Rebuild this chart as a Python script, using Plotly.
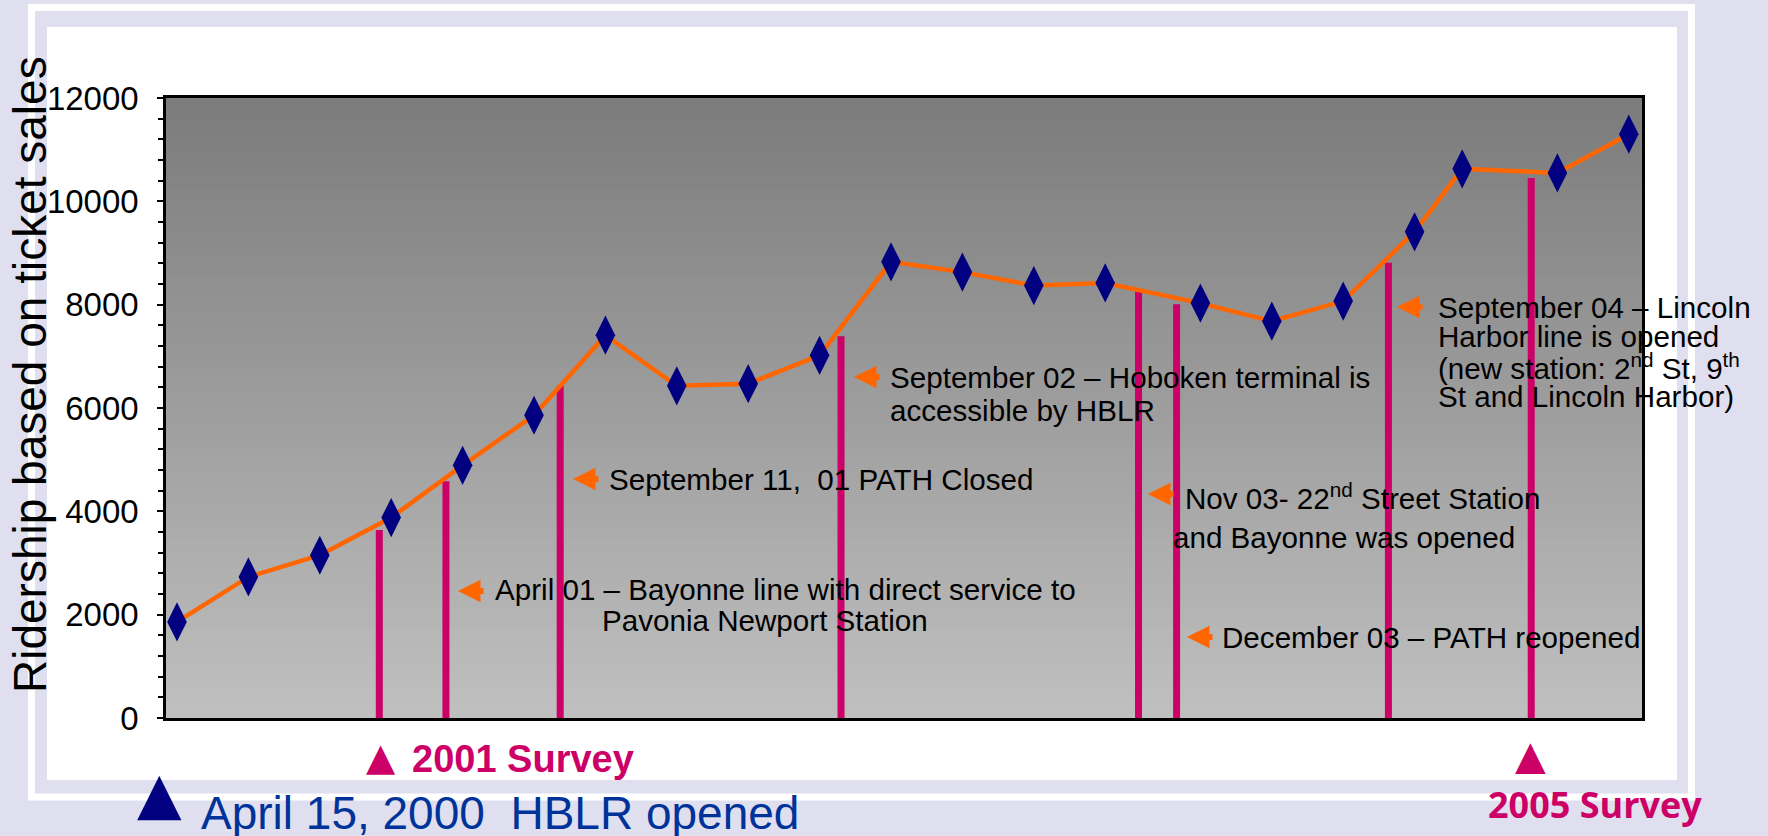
import plotly.graph_objects as go

W, H = 1768, 836

# ---------------- data ----------------
months = [0, 3, 6, 9, 12, 15, 18, 21, 24, 27, 30, 33, 36, 39, 43, 46, 49, 52, 54, 58, 61]
ridership = [1860, 2730, 3150, 3880, 4890, 5860, 7410, 6430, 6470, 7020, 8830,
             8630, 8370, 8420, 8030, 7680, 8070, 9410, 10630, 10550, 11300]
event_months = [8.5, 11.3, 16.1, 27.9, 40.4, 42.0, 50.9, 56.9]
event_tops = [3640, 4580, 6430, 7390, 8300, 8010, 8810, 10450]
y_tick_vals = [0, 2000, 4000, 6000, 8000, 10000, 12000]
y_tick_text = ["0", "2000", "4000", "6000", "8000", "10000", "12000"]

# ---------------- geometry helpers ----------------
L, R, T, B = 166, 1642, 98, 718          # plot area in pixels
def xd(px):   # pixel -> month
    return (px - 177) / 23.8
def yd(py):   # pixel -> ridership
    return (B - py) / (B - T) * 12000
def xp(px):   # pixel -> paper
    return (px - L) / (R - L)
def yp(py):
    return (B - py) / (B - T)

MAGENTA = "#CC0066"
ORANGE = "#FF6600"
NAVY = "#000080"
LAV = "#DFDFEF"

fig = go.Figure()

# event lines
ex, ey = [], []
for m, top in zip(event_months, event_tops):
    ex += [m, m, None]
    ey += [0, top, None]
fig.add_trace(go.Scatter(x=ex, y=ey, mode="lines",
                         line=dict(color=MAGENTA, width=7), hoverinfo="skip",
                         showlegend=False))

# ridership line
fig.add_trace(go.Scatter(x=months, y=ridership, mode="lines+markers",
                         line=dict(color=ORANGE, width=4.5),
                         marker=dict(symbol="diamond-tall", size=28, color=NAVY,
                                     line=dict(width=0)),
                         showlegend=False))

shapes = []
# frame: white outline and inner white box
shapes.append(dict(type="rect", xref="paper", yref="paper", layer="below",
                   x0=xp(31.5), x1=xp(1691.5), y0=yp(7.5), y1=yp(797),
                   line=dict(color="white", width=7), fillcolor="rgba(0,0,0,0)"))
shapes.append(dict(type="rect", xref="paper", yref="paper", layer="below",
                   x0=xp(47), x1=xp(1677), y0=yp(27), y1=yp(780),
                   line=dict(width=0), fillcolor="white"))
# gradient plot background
N = 62
for i in range(N):
    t = (i + 0.5) / N
    c = int(round(123 + (192 - 123) * t))
    shapes.append(dict(type="rect", xref="x domain", yref="y domain", layer="below",
                       x0=0, x1=1, y0=1 - (i + 1) / N - 0.002, y1=1 - i / N,
                       line=dict(width=0), fillcolor=f"rgb({c},{c},{c})"))

ann = []
TXT = dict(family="Liberation Sans, Arial, sans-serif", size=29.6, color="black")

def arrow(px, py):
    ann.append(dict(x=xd(px), y=yd(py), xref="x", yref="y", text="",
                    showarrow=True, ax=27, ay=0, arrowhead=2, arrowwidth=6,
                    arrowsize=0.75, arrowcolor=ORANGE, standoff=0))

def label(px, py, text):
    ann.append(dict(x=xd(px), y=yd(py), xref="x", yref="y", text=text,
                    showarrow=False, xanchor="left", yanchor="middle", font=TXT))

arrow(458, 591)
label(493, 589, "April 01 – Bayonne line with direct service to")
label(600, 620, "Pavonia Newport Station")
arrow(573, 479)
label(607, 479, "September 11,  01 PATH Closed")
arrow(854, 377)
label(888, 377, "September 02 – Hoboken terminal is")
label(888, 410, "accessible by HBLR")
arrow(1148, 494)
label(1183, 496, "Nov 03- 22<sup>nd</sup> Street Station")
label(1171, 537, "and Bayonne was opened")
arrow(1187, 637)
label(1220, 637, "December 03 – PATH reopened")
arrow(1397, 307)
label(1436, 307, "September 04 – Lincoln")
label(1436, 336, "Harbor line is opened")
label(1436, 366, "(new station: 2<sup>nd</sup> St, 9<sup>th</sup>")
label(1436, 396, "St and Lincoln Harbor)")

# y-axis title
ann.append(dict(x=xp(30), y=yp(375), xref="paper", yref="paper",
                text="Ridership based on ticket sales", textangle=-90,
                showarrow=False, xanchor="center", yanchor="middle",
                font=dict(family="Liberation Sans, Arial, sans-serif", size=46, color="black")))

# bottom markers and texts
ann.append(dict(x=xp(381), y=yp(757), xref="paper", yref="paper", text="▲",
                showarrow=False, xanchor="center", yanchor="middle",
                font=dict(family="DejaVu Sans, sans-serif", size=38, color=MAGENTA)))
ann.append(dict(x=xp(410), y=yp(759), xref="paper", yref="paper", text="<b>2001 Survey</b>",
                showarrow=False, xanchor="left", yanchor="middle",
                font=dict(family="Liberation Sans, Arial, sans-serif", size=38, color=MAGENTA)))
ann.append(dict(x=xp(1530), y=yp(755), xref="paper", yref="paper", text="▲",
                showarrow=False, xanchor="center", yanchor="middle",
                font=dict(family="DejaVu Sans, sans-serif", size=40, color=MAGENTA)))
ann.append(dict(x=xp(1595), y=yp(804), xref="paper", yref="paper", text="<b>2005 Survey</b>",
                showarrow=False, xanchor="center", yanchor="middle",
                font=dict(family="Open Sans, sans-serif", size=36, color=MAGENTA)))
ann.append(dict(x=xp(159), y=yp(793), xref="paper", yref="paper", text="▲",
                showarrow=False, xanchor="center", yanchor="middle",
                font=dict(family="DejaVu Sans, sans-serif", size=58, color=NAVY)))
ann.append(dict(x=xp(199), y=yp(813), xref="paper", yref="paper",
                text="April 15, 2000  HBLR opened",
                showarrow=False, xanchor="left", yanchor="middle",
                font=dict(family="Liberation Sans, Arial, sans-serif", size=46, color="#003399")))

fig.update_layout(
    width=W, height=H, autosize=False,
    margin=dict(l=L, r=W - R, t=T, b=H - B),
    paper_bgcolor=LAV, plot_bgcolor="rgba(0,0,0,0)",
    shapes=shapes, annotations=ann, showlegend=False,
    xaxis=dict(range=[xd(L), xd(R)], showgrid=False, zeroline=False,
               showticklabels=False, ticks="", showline=True, linecolor="black",
               linewidth=2.5, mirror=True),
    yaxis=dict(range=[0, 12000], showgrid=False, zeroline=False,
               tickvals=y_tick_vals, ticktext=y_tick_text, ticks="outside",
               ticklen=6, tickwidth=1.5, tickcolor="black",
               minor=dict(ticks="outside", dtick=400, ticklen=5, tickwidth=1.5, tickcolor="black"),
               ticklabelstandoff=12,
               tickfont=dict(family="Liberation Sans Narrow, Arial Narrow, sans-serif",
                             size=33, color="black"),
               showline=True, linecolor="black", linewidth=2.5, mirror=True),
)

fig.write_html("out.html")
